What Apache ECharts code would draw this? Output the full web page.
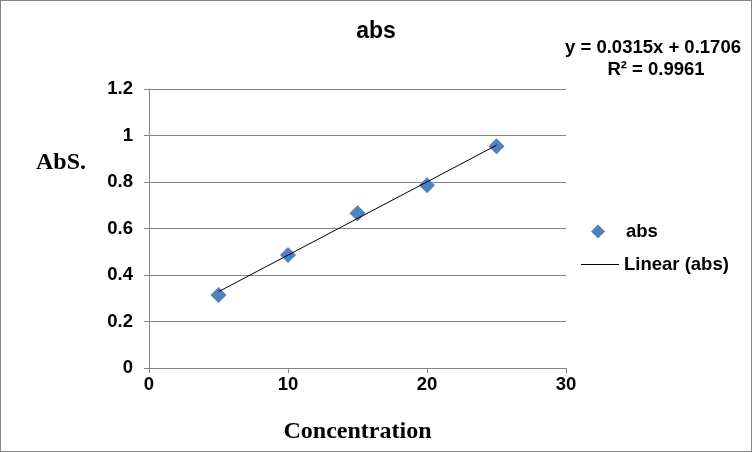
<!DOCTYPE html>
<html><head><meta charset="utf-8">
<script src="https://cdn.jsdelivr.net/npm/echarts@6/dist/echarts.min.js"></script>
<style>html,body{margin:0;padding:0;background:#fff}#c{width:752px;height:452px;box-sizing:border-box;border:1px solid #868686}</style>
</head><body><div id="c"></div>
<script>
const concentration = [5, 10, 15, 20, 25];
const absValues = [0.314, 0.486, 0.666, 0.786, 0.954];
const slope = 0.0315;
const intercept = 0.1706;
const trendX = [5, 25];
const xTicks = [0, 10, 20, 30];
const yTicks = [0, 0.2, 0.4, 0.6, 0.8, 1, 1.2];

const chart = echarts.init(document.getElementById('c'), null, {renderer: 'canvas'});
const gray = '#868686';
const sans = 'Liberation Sans, Arial';
const serif = 'Liberation Serif, Times New Roman';
const fontB = {fontFamily: sans, fontWeight: 'bold', color: '#000'};
chart.setOption({
  animation: false,
  grid: {left: 148, right: 185, top: 88, bottom: 83},
  xAxis: {type: 'value', min: 0, max: 30, interval: 10,
    axisLine: {show: false},
    axisTick: {show: true, length: 5, lineStyle: {color: gray}},
    splitLine: {show: false},
    axisLabel: Object.assign({fontSize: 18.5, margin: 7}, fontB),
    name: 'Concentration', nameLocation: 'middle', nameGap: 52,
    nameTextStyle: {fontFamily: serif, fontWeight: 'bold', fontSize: 24, color: '#000'}},
  yAxis: {type: 'value', min: 0, max: 1.2, interval: 0.2,
    axisLine: {show: true, lineStyle: {color: gray}},
    axisTick: {show: true, length: 5, lineStyle: {color: gray}},
    splitLine: {show: true, lineStyle: {color: gray, width: 1}},
    axisLabel: Object.assign({fontSize: 18.5, margin: 16, formatter: v => String(+v.toFixed(1))}, fontB)},
  legend: [
    {data: [{name: 'abs', icon: 'diamond'}], left: 585, top: 216, itemWidth: 14, itemHeight: 14,
      textStyle: Object.assign({fontSize: 18.5, padding: [0, 0, 0, 16]}, fontB)},
    {data: [{name: 'Linear (abs)', icon: 'rect'}], left: 575, top: 249, itemWidth: 38, itemHeight: 1,
      textStyle: Object.assign({fontSize: 18.5}, fontB)}
  ],
  graphic: [
    {type: 'text', x: 375, y: 19, style: {text: 'abs', textAlign: 'center', fontFamily: sans, fontWeight: 'bold', fontSize: 23, fill: '#000'}},
    {type: 'text', x: 652, y: 37, style: {text: 'y = 0.0315x + 0.1706', textAlign: 'center', fontFamily: sans, fontWeight: 'bold', fontSize: 18.5, fill: '#000'}},
    {type: 'text', x: 655, y: 59, style: {text: 'R² = 0.9961', textAlign: 'center', fontFamily: sans, fontWeight: 'bold', fontSize: 18.5, fill: '#000'}},
    {type: 'text', x: 35, y: 150, style: {text: 'AbS.', fontFamily: serif, fontWeight: 'bold', fontSize: 24, fill: '#000'}}
  ],
  series: [
    {name: 'Linear (abs)', type: 'line', data: trendX.map(x => [x, slope * x + intercept]),
      showSymbol: false, symbol: 'none', lineStyle: {color: '#000', width: 1}, itemStyle: {color: '#000'}, z: 3},
    {name: 'abs', type: 'scatter', data: concentration.map((c, i) => [c, absValues[i]]),
      symbol: 'diamond', symbolSize: 16, itemStyle: {color: '#4F81BD', opacity: 1}, z: 2}
  ]
});
</script></body></html>
